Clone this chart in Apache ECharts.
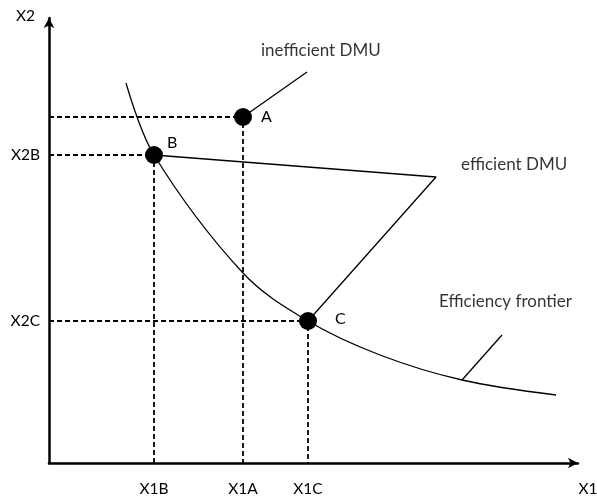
<!DOCTYPE html>
<html>
<head>
<meta charset="utf-8">
<script src="https://cdn.jsdelivr.net/npm/echarts@6/dist/echarts.min.js"></script>
<style>html,body{margin:0;padding:0;background:#fff}#c{width:597px;height:499px}</style>
</head>
<body>
<div id="c"></div>
<script>
// Axis range (data units)
const xMax = 529;
const yMax = 445;

// Axis tick labels
const xTickValues = [105, 194, 259, 529];
const xTickLabels = ['X1B', 'X1A', 'X1C', 'X1'];
const yTickValues = [142, 308, 445];
const yTickLabels = ['X2C', 'X2B', 'X2'];

// DMU points
const pointNames = ['A', 'B', 'C'];
const pointX = [194, 105, 259];
const pointY = [346, 308, 142];

// Efficiency frontier curve
const frontierX = [77, 105, 194, 259, 331, 413, 507];
const frontierY = [380, 308, 190, 142, 108, 83, 68];

// Efficient DMU bracket (B -> apex -> C)
const bracketX = [105, 387, 259];
const bracketY = [308, 286, 142];

// Callout leader lines
const calloutAX = [194, 258];
const calloutAY = [346, 391];
const calloutFX = [413, 453];
const calloutFY = [83, 128];

// Annotation texts (anchored at left-middle)
const noteText = ['inefficient DMU', 'efficient DMU', 'Efficiency frontier'];
const noteX = [212, 412, 390];
const noteY = [412, 298, 161];

const FONT = 'Lato';
const zip = (xs, ys) => xs.map((x, i) => [x, ys[i]]);

const dashStyle = { color: '#000', width: 1.8, type: [5, 3] };
const dashSeries = pointNames.map((n, i) => ({
  type: 'line', symbol: 'none', silent: true, z: 2,
  lineStyle: dashStyle,
  data: [[0, pointY[i]], [pointX[i], pointY[i]], [pointX[i], 0]]
}));

const labelOffsets = { A: { distance: 9, offset: [0, 0] }, B: { distance: 4, offset: [0, -12] }, C: { distance: 18, offset: [0, -2] } };

const chart = echarts.init(document.getElementById('c'));
chart.setOption({
  animation: false,
  backgroundColor: '#fff',
  grid: { left: 49, right: 19, top: 18, bottom: 36, containLabel: false, outerBoundsMode: 'none' },
  xAxis: {
    type: 'value', min: 0, max: xMax,
    splitLine: { show: false },
    axisLine: { lineStyle: { color: '#000', width: 2.5 }, symbol: ['none', 'arrow'], symbolSize: [8, 10] },
    axisTick: { show: false },
    axisLabel: {
      customValues: xTickValues, margin: 18, color: '#000', fontFamily: FONT, fontSize: 15.5,
      showMaxLabel: true, hideOverlap: false,
      formatter: v => { const i = xTickValues.indexOf(v); return i === xTickValues.length - 1 ? '{e|' + xTickLabels[i] + '}' : xTickLabels[i]; },
      rich: { e: { padding: [0, 0, 0, 20], color: '#000', fontFamily: FONT, fontSize: 15.5 } }
    }
  },
  yAxis: {
    type: 'value', min: 0, max: yMax,
    splitLine: { show: false },
    axisLine: { lineStyle: { color: '#000', width: 2.5 }, symbol: ['none', 'arrow'], symbolSize: [8, 10] },
    axisTick: { show: false },
    axisLabel: {
      customValues: yTickValues, margin: 9, color: '#000', fontFamily: FONT, fontSize: 15.5,
      showMaxLabel: true, hideOverlap: false,
      formatter: v => { const i = yTickValues.indexOf(v); return i === yTickValues.length - 1 ? '{e|' + yTickLabels[i] + '}' : yTickLabels[i]; },
      rich: { e: { padding: [0, 5, 4, 0], color: '#000', fontFamily: FONT, fontSize: 15.5 } }
    }
  },
  series: [
    ...dashSeries,
    {
      type: 'line', symbol: 'none', smooth: 0.35, silent: true, z: 3,
      lineStyle: { color: '#000', width: 1.3 },
      data: zip(frontierX, frontierY)
    },
    {
      type: 'line', symbol: 'none', silent: true, z: 3,
      lineStyle: { color: '#000', width: 1.3 },
      data: zip(bracketX, bracketY)
    },
    {
      type: 'line', symbol: 'none', silent: true, z: 3,
      lineStyle: { color: '#000', width: 1.3 },
      data: zip(calloutAX, calloutAY)
    },
    {
      type: 'line', symbol: 'none', silent: true, z: 3,
      lineStyle: { color: '#000', width: 1.3 },
      data: zip(calloutFX, calloutFY)
    },
    {
      type: 'scatter', symbol: 'circle', symbolSize: 18, silent: true, z: 5,
      itemStyle: { color: '#000', opacity: 1 },
      data: pointNames.map((n, i) => ({
        value: [pointX[i], pointY[i]],
        label: {
          show: true, position: 'right', formatter: n, color: '#000', fontFamily: FONT, fontSize: 16,
          distance: labelOffsets[n].distance, offset: labelOffsets[n].offset
        }
      }))
    },
    {
      type: 'scatter', symbolSize: 0, silent: true, z: 5,
      label: { show: true, position: 'right', distance: 0, color: '#000', fontFamily: FONT, fontSize: 17, formatter: p => noteText[p.dataIndex] },
      data: zip(noteX, noteY)
    }
  ]
});
</script>
</body>
</html>
